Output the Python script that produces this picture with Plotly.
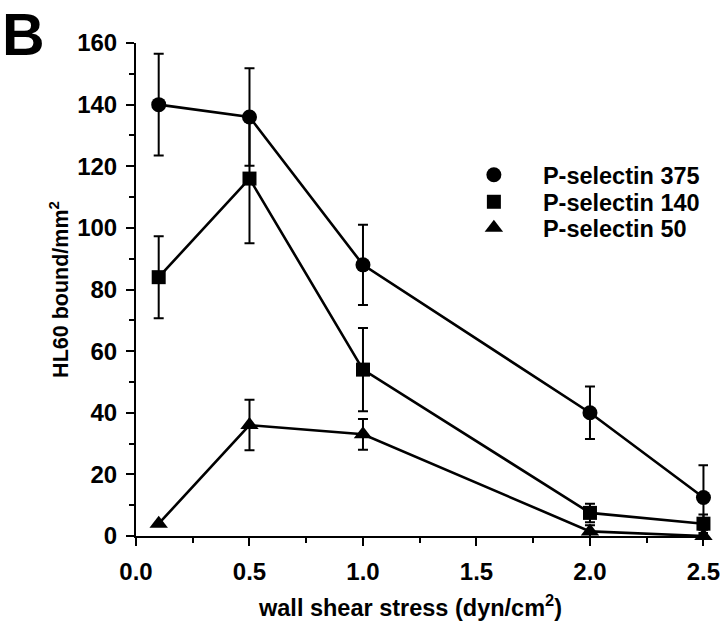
import plotly.graph_objects as go

shear = [0.1, 0.5, 1.0, 2.0, 2.5]

ps375 = [140, 136, 88, 40, 12.5]
ps375_err = [16.5, 15.8, 13, 8.5, 10.5]

ps140 = [84, 116, 54, 7.5, 4]
ps140_err = [13.3, 21, 13.5, 3, 3]

ps50 = [4, 36, 33, 1.5, 0]
ps50_err = [0, 8.2, 5, 2, 0]

names = ["P-selectin 375", "P-selectin 140", "P-selectin 50"]
symbols = ["circle", "square", "triangle-up"]
sizes = [15, 14, 16]
legend_ids = ["legend", "legend2", "legend3"]

FONT = "Liberation Sans"

fig = go.Figure()
for name, ys, errs, sym, msize in zip(
    names, [ps375, ps140, ps50], [ps375_err, ps140_err, ps50_err], symbols, sizes
):
    fig.add_trace(
        go.Scatter(
            x=shear,
            y=ys,
            name=name,
            mode="lines+markers",
            line=dict(color="black", width=2.6),
            marker=dict(symbol=sym, size=msize, color="black"),
            error_y=dict(type="data", array=errs, visible=True, color="black", thickness=2, width=5),
            cliponaxis=False,
            showlegend=False,
        )
    )
# legend entries (markers only, as in the reference), one legend per row for tight spacing
for name, sym, msize, lid in zip(names, symbols, sizes, legend_ids):
    fig.add_trace(
        go.Scatter(
            x=[None],
            y=[None],
            name=name,
            mode="markers",
            marker=dict(symbol=sym, size=msize, color="black"),
            showlegend=True,
            legend=lid,
        )
    )

axis_common = dict(
    showline=True,
    linecolor="black",
    linewidth=2,
    ticks="outside",
    tickcolor="black",
    tickwidth=2,
    ticklen=8,
    showgrid=False,
    zeroline=False,
    automargin=False,
    ticklabeloverflow="allow",
    tickfont=dict(family=FONT, size=24, color="black", weight="bold"),
)

legend_common = dict(
    x=0.54,
    xanchor="left",
    yanchor="middle",
    bgcolor="rgba(0,0,0,0)",
    font=dict(family=FONT, size=23.5, color="black", weight="bold"),
    itemwidth=88,
)

fig.update_layout(
    width=720,
    height=624,
    paper_bgcolor="white",
    plot_bgcolor="white",
    margin=dict(l=136, r=12, t=43, b=88),
    font=dict(family=FONT, color="black"),
    xaxis=dict(
        range=[0, 2.52],
        tickvals=[0, 0.5, 1.0, 1.5, 2.0, 2.5],
        ticktext=["0.0", "0.5", "1.0", "1.5", "2.0", "2.5"],
        minor=dict(dtick=0.25, ticks="outside", ticklen=5, tickwidth=2, tickcolor="black"),
        ticklabelstandoff=5,
        **axis_common,
    ),
    yaxis=dict(
        range=[0, 160],
        tickvals=[0, 20, 40, 60, 80, 100, 120, 140, 160],
        minor=dict(dtick=10, ticks="outside", ticklen=5, tickwidth=2, tickcolor="black"),
        ticklabelstandoff=4,
        title=dict(
            text="HL60 bound/mm<sup>2</sup>",
            font=dict(family=FONT, size=21.5, color="black", weight="bold"),
            standoff=3,
        ),
        **axis_common,
    ),
    legend=dict(y=0.7323, **legend_common),
    legend2=dict(y=0.6775, **legend_common),
    legend3=dict(y=0.6247, **legend_common),
    showlegend=True,
    annotations=[
        dict(
            text="B",
            x=0,
            y=1,
            xref="paper",
            yref="paper",
            xanchor="left",
            yanchor="top",
            xshift=-136,
            yshift=43,
            showarrow=False,
            font=dict(family=FONT, size=59, color="black", weight="bold"),
        ),
        dict(
            text="wall shear stress (dyn/cm<sup>2</sup>)",
            x=0.479,
            y=0,
            xref="paper",
            yref="paper",
            xanchor="center",
            yanchor="middle",
            yshift=-70,
            showarrow=False,
            font=dict(family=FONT, size=23.5, color="black", weight="bold"),
        ),
    ],
)

fig.write_html(
    "out.html",
    config={"displayModeBar": False},
    post_script="document.body.style.margin='0';",
)
